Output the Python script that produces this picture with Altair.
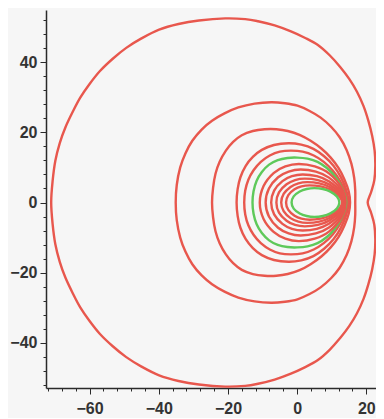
import altair as alt
import pandas as pd

# Upper halves of each closed curve (x, y); curves are symmetric about y=0
outer = [(-71.1, 0), (-70.7, 6), (-69.9, 11.9), (-68.6, 17), (-67, 21.4), (-64.8, 26),
         (-62.7, 29.9), (-60, 33.8), (-57, 37.5), (-53.3, 41), (-49.4, 44.1), (-45, 46.8),
         (-39.9, 49.3), (-34.3, 50.9), (-28.4, 51.9), (-20.8, 52.5), (-15, 52.3), (-11.3, 51.7),
         (-6.5, 50.5), (-1.8, 48.8), (2.2, 47), (5.9, 45), (9.4, 42), (12.5, 38.6), (15.1, 35.2),
         (17.3, 31.6), (19.2, 27.5), (20.6, 23.3), (21.7, 19), (22.4, 14.8), (22.6, 10.5),
         (22.3, 6.3), (21.4, 3), (20.4, 0)]
c2 = [(-35.1, 0), (-34.8, 5), (-33.8, 10), (-32.3, 14), (-30.3, 17.6), (-27.6, 20.8),
      (-24.6, 23.3), (-21, 25.4), (-17, 27.1), (-12.3, 28.2), (-7.5, 28.6), (-3.5, 28.3),
      (0.1, 27.6), (3.6, 26.1), (6.8, 24.2), (9.8, 21.6), (12.3, 18.6), (14.3, 15), (15.7, 11),
      (16.5, 7), (16.8, 3.4), (16.8, 0)]
c3 = [(-24.6, 0), (-24.3, 4.2), (-23.6, 8.2), (-22.4, 11.6), (-20.6, 14.8), (-18.5, 17.3),
      (-16, 19.2), (-12.8, 20.4), (-9.4, 20.9), (-6, 20.9), (-2.7, 20.4), (0.7, 19.3),
      (3.9, 17.6), (7, 15.4), (9.7, 12.8), (12, 9.8), (13.7, 6.5), (14.9, 3.2), (15.3, 0)]
c4 = [(-17.5, 0), (-17.2, 3.8), (-16.4, 7.2), (-14.9, 10.4), (-12.8, 13), (-10.2, 15),
      (-6.7, 16.4), (-2.5, 16.9), (1.2, 16.5), (4.7, 15.3), (7.8, 13.2), (10.5, 10.5),
      (12.6, 7.3), (14.1, 3.8), (14.9, 0)]
c5 = [(-15.3, 0), (-15, 3.4), (-14.1, 6.5), (-12.6, 9.2), (-10.5, 11.6), (-7.9, 13.4),
      (-5, 14.5), (-1.8, 14.8), (1.6, 14.5), (4.8, 13.4), (7.7, 11.6), (10.3, 9.1),
      (12.4, 6.2), (13.9, 3.2), (14.6, 0)]
g1 = [(-12.9, 0), (-12.6, 3.2), (-11.7, 6.2), (-10.2, 8.7), (-8.1, 10.8), (-5.6, 12.1),
      (-2.8, 12.7), (0, 12.8), (3, 12.5), (5.9, 11.6), (8.5, 9.9), (10.8, 7.6), (12.6, 4.8),
      (13.8, 2), (14.2, 0)]
r6 = [(-10.8, 0), (-9.7, 4.7), (-6.8, 8.4), (-3.4, 10.3), (0.5, 11), (5.1, 10.3), (9.2, 8.3),
      (12.7, 4.4), (14, 0)]
r7 = [(-9.1, 0), (-8.15, 4), (-5.5, 7.2), (-2.45, 8.8), (1, 9.4), (5.4, 8.8), (9.2, 7.1),
      (12.6, 3.7), (13.8, 0)]
r8 = [(-7.5, 0), (-6.65, 3.4), (-4.25, 6.1), (-1.5, 7.5), (1.6, 8), (5.7, 7.5), (9.3, 6.0),
      (12.5, 3.1), (13.6, 0)]
r9 = [(-6, 0), (-5.25, 2.9), (-3.05, 5.2), (-0.6, 6.4), (2.2, 6.8), (6, 6.4), (9.4, 5.1),
      (12.35, 2.65), (13.4, 0)]
r10 = [(-4.6, 0), (-3.9, 2.45), (-1.9, 4.45), (0.35, 5.45), (2.9, 5.8), (6.4, 5.45),
       (9.5, 4.35), (12.2, 2.25), (13.2, 0)]
r11 = [(-3.2, 0), (-2.55, 2.1), (-0.75, 3.75), (1.25, 4.6), (3.6, 4.9), (6.8, 4.6),
       (9.6, 3.7), (12.1, 1.9), (13, 0)]
g2 = [(-1.6, 0), (-1, 1.75), (0.75, 3.15), (2.75, 3.85), (5, 4.1), (7.45, 3.85), (9.6, 3.1),
      (11.5, 1.7), (12.2, 0)]

curves = [("outer", "red", outer), ("c2", "red", c2), ("c3", "red", c3), ("c4", "red", c4),
          ("c5", "red", c5), ("g1", "green", g1), ("r6", "red", r6), ("r7", "red", r7),
          ("r8", "red", r8), ("r9", "red", r9), ("r10", "red", r10), ("r11", "red", r11),
          ("g2", "green", g2)]

x_major = [-60, -40, -20, 0, 20]
y_major = [-40, -20, 0, 20, 40]
x_minor = list(range(-72, 24, 4))
y_minor = list(range(-52, 56, 4))

rows = []
for name, kind, pts in curves:
    full = pts + [(x, -y) for x, y in reversed(pts[1:-1])]
    for i, (x, y) in enumerate(full):
        rows.append({"curve": name, "kind": kind, "x": x, "y": y, "i": i})
df = pd.DataFrame(rows)

xs = alt.Scale(domain=[-72.6, 22.8], nice=False, zero=False)
ys = alt.Scale(domain=[-52.9, 54.9], nice=False, zero=False)
axis_color = "#2a2a2a"

minor = alt.Chart(df).mark_point(opacity=0).encode(
    x=alt.X("x:Q", scale=xs, title=None,
            axis=alt.Axis(values=x_minor, labels=False, tickSize=3, grid=False, orient="bottom",
                          domainColor=axis_color, tickColor=axis_color, domainWidth=1.5)),
    y=alt.Y("y:Q", scale=ys, title=None,
            axis=alt.Axis(values=y_minor, labels=False, tickSize=3, grid=False, orient="left",
                          domainColor=axis_color, tickColor=axis_color, domainWidth=1.5)),
)

lines = alt.Chart(df).mark_line(interpolate="cardinal-closed", strokeWidth=2.4).encode(
    x=alt.X("x:Q", scale=xs, title=None,
            axis=alt.Axis(values=x_major, tickSize=6, grid=False, orient="bottom", domain=False,
                          tickColor=axis_color, labelColor="#333333", labelFont="Liberation Sans",
                          labelFontSize=16, labelFontWeight="bold", labelPadding=6)),
    y=alt.Y("y:Q", scale=ys, title=None,
            axis=alt.Axis(values=y_major, tickSize=6, grid=False, orient="left", domain=False,
                          tickColor=axis_color, labelColor="#333333", labelFont="Liberation Sans",
                          labelFontSize=16, labelFontWeight="bold", labelPadding=3)),
    detail="curve:N",
    order="i:Q",
    color=alt.Color("kind:N", scale=alt.Scale(domain=["red", "green"], range=["#e8574d", "#5ec95a"]),
                    legend=None),
)

chart = alt.layer(minor, lines).resolve_axis(x="independent", y="independent").properties(
    width=330, height=378,
    autosize=alt.AutoSizeParams(type="none"),
    padding={"left": 38, "top": 2, "right": 0, "bottom": 30},
    background="#f6f6f6",
).configure_view(stroke=None)

chart.save("out.html", embed_options={"renderer": "svg", "actions": False})
